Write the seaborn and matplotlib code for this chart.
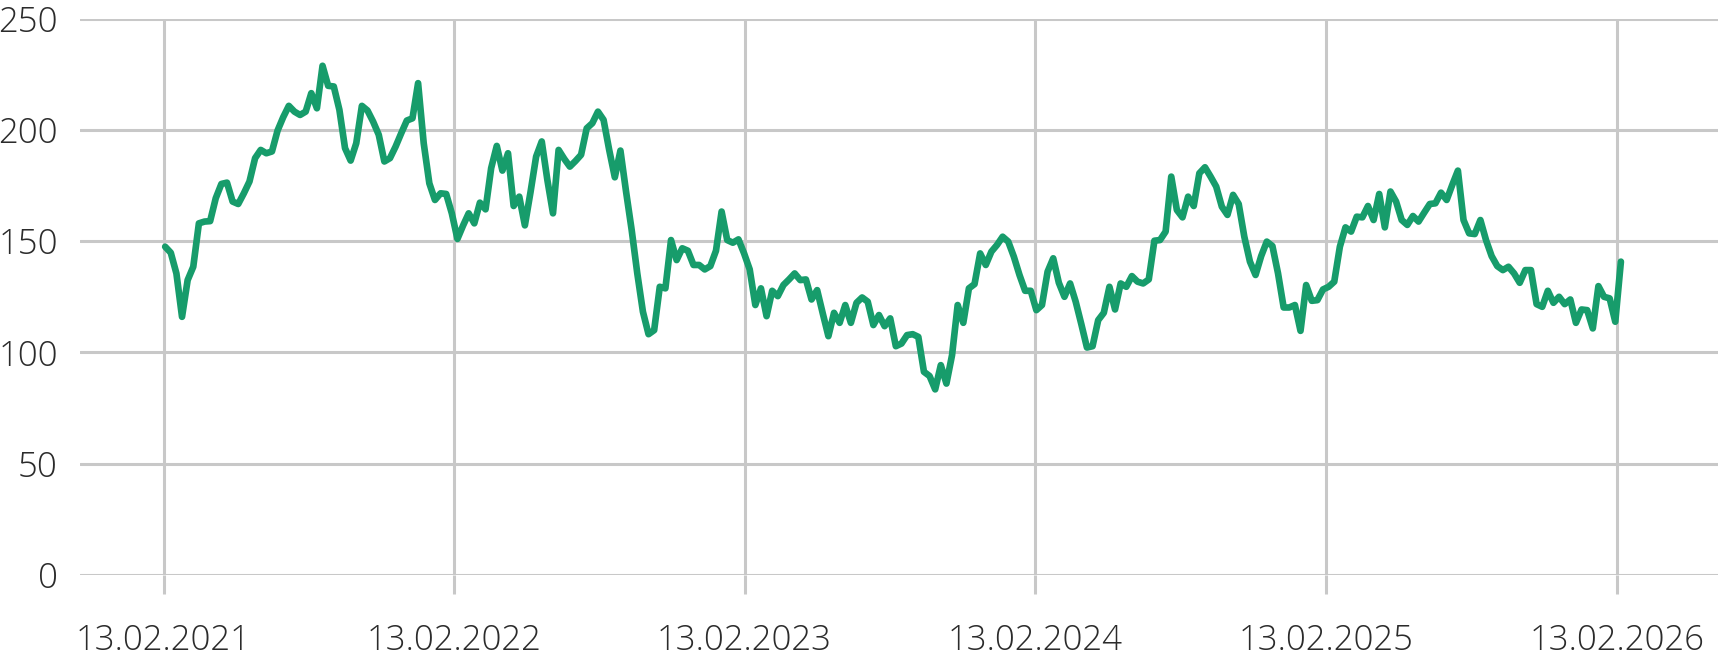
import pandas as pd
import seaborn as sns
import matplotlib.pyplot as plt

# weekly values
values = [
    147.5, 144.8, 135.5, 116.0, 132.5, 138.5, 158.0, 158.8, 159.0, 169.3,
    175.7, 176.3, 167.8, 166.7, 171.5, 176.8, 187.3, 191.0, 189.5, 190.3,
    199.7, 205.7, 210.8, 208.2, 206.7, 208.2, 216.5, 209.7, 228.8, 219.8,
    219.5, 209.0, 191.8, 186.2, 194.0, 210.8, 208.7, 203.7, 197.8, 185.8,
    187.3, 192.5, 198.5, 204.2, 205.2, 221.0, 194.0, 176.0, 168.5, 171.5,
    171.2, 162.5, 151.0, 157.0, 162.5, 158.0, 167.3, 164.3, 182.8, 192.8,
    181.7, 189.5, 165.8, 170.0, 157.1, 172.0, 188.0, 194.8, 177.5, 162.5,
    191.0, 187.0, 183.5, 186.0, 188.8, 200.7, 203.0, 208.2, 204.5, 191.0,
    178.7, 190.7, 172.3, 155.0, 135.5, 118.3, 108.2, 110.0, 129.5, 128.8,
    150.5, 141.5, 146.8, 145.7, 139.3, 139.3, 137.3, 138.8, 145.7, 163.3,
    150.5, 149.3, 150.8, 144.5, 137.3, 121.3, 128.8, 116.3, 127.7, 125.3,
    130.3, 132.8, 135.5, 132.5, 132.8, 123.8, 128.0, 117.5, 107.3, 117.8,
    113.3, 121.3, 113.3, 122.3, 124.7, 122.8, 112.3, 116.8, 111.8, 115.3,
    102.8, 104.0, 107.8, 108.2, 107.0, 91.3, 89.4, 83.4, 94.3, 86.0,
    98.8, 121.3, 113.3, 128.8, 130.7, 144.5, 139.3, 145.3, 148.3, 152.0,
    149.8, 143.0, 134.8, 127.7, 127.7, 119.0, 121.3, 136.3, 142.3, 131.3,
    125.0, 131.0, 122.8, 112.7, 102.2, 102.8, 114.5, 117.8, 129.5, 119.3,
    131.0, 129.5, 134.3, 131.8, 131.0, 132.8, 150.2, 150.5, 154.3, 179.0,
    164.0, 160.7, 170.0, 165.8, 180.5, 183.2, 179.0, 174.5, 165.5, 161.8,
    170.8, 166.7, 152.0, 140.8, 134.8, 143.3, 149.8, 147.8, 135.5, 120.2,
    120.2, 121.3, 109.7, 130.3, 123.2, 123.5, 128.3, 129.5, 131.8, 147.5,
    156.2, 154.3, 161.0, 160.7, 165.8, 159.5, 171.2, 156.2, 172.3, 167.8,
    159.5, 157.3, 161.3, 158.8, 162.8, 166.7, 167.0, 171.8, 168.5, 175.3,
    181.7, 159.5, 153.5, 153.2, 159.5, 150.5, 143.3, 138.8, 137.0, 138.5,
    135.5, 131.3, 137.0, 137.0, 121.7, 120.5, 127.7, 122.3, 125.0, 121.7,
    123.8, 113.3, 119.3, 119.0, 110.8, 129.8, 125.0, 124.3, 113.8, 140.8,
]
first_date = "2021-02-15"
last_date = "2026-02-18"
tick_dates = ["2021-02-13", "2022-02-13", "2023-02-13",
              "2024-02-13", "2025-02-13", "2026-02-13"]
y_ticks = [0, 50, 100, 150, 200, 250]

df = pd.DataFrame({
    "date": pd.date_range(first_date, last_date, periods=len(values)),
    "value": values,
})

sns.set_style("white")
plt.rcParams["font.family"] = ["Open Sans", "DejaVu Sans"]
plt.rcParams["font.weight"] = "light"

grid_col = "#c8c8c8"
fig = plt.figure(figsize=(17.18, 6.58), dpi=100)
ax = fig.add_axes([80 / 1718, 83 / 658, 1 - 80 / 1718, (575 - 18.6) / 658])

sns.lineplot(data=df, x="date", y="value", ax=ax, color="#179c6b",
             linewidth=4.8, solid_joinstyle="round", solid_capstyle="round",
             zorder=3)

ax.set_ylim(0, 250)
ax.set_xlim(pd.Timestamp("2020-10-31"), pd.Timestamp("2026-06-20"))
ax.set_yticks(y_ticks)
ticks = pd.to_datetime(tick_dates)
ax.set_xticks(ticks)
ax.set_xticklabels([t.strftime("%d.%m.%Y") for t in ticks])
ax.grid(True, color=grid_col, linewidth=2.2)
for s in ax.spines.values():
    s.set_visible(False)

ax.tick_params(axis="x", length=14, width=2.2, color=grid_col, pad=21,
               labelsize=25, labelcolor="#2b2b2b", bottom=True)
ax.tick_params(axis="y", length=0, pad=16, labelsize=25, labelcolor="#2b2b2b")
ax.set_xlabel("")
ax.set_ylabel("")

fig.savefig("out.png", dpi=100)
